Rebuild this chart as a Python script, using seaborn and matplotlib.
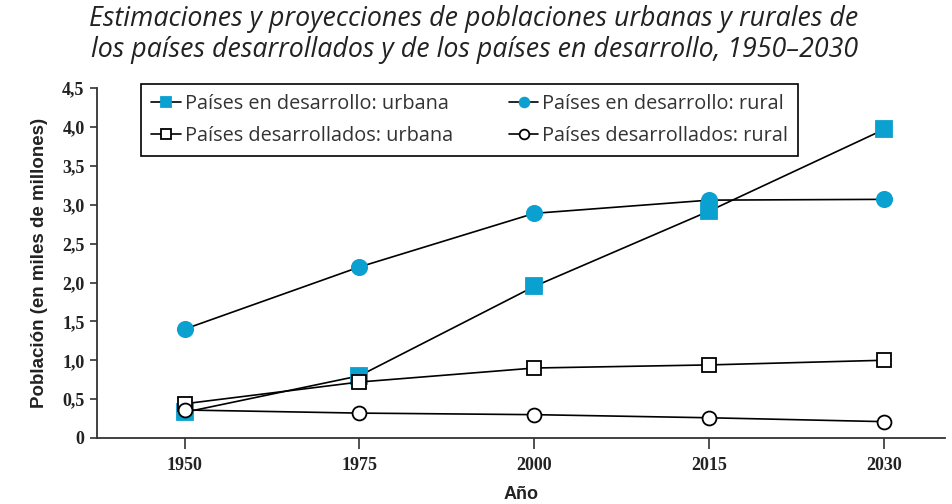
import numpy as np
import seaborn as sns
import matplotlib.pyplot as plt

# data (miles de millones)
years = ["1950", "1975", "2000", "2015", "2030"]
dev_urban = [0.33, 0.80, 1.95, 2.92, 3.97]      # países en desarrollo: urbana
dev_rural = [1.40, 2.20, 2.89, 3.06, 3.07]      # países en desarrollo: rural
ind_urban = [0.44, 0.72, 0.90, 0.94, 1.00]      # países desarrollados: urbana
ind_rural = [0.36, 0.32, 0.30, 0.26, 0.21]      # países desarrollados: rural
y_ticks = [0, 0.5, 1.0, 1.5, 2.0, 2.5, 3.0, 3.5, 4.0, 4.5]
y_tick_labels = ["0", "0,5", "1,0", "1,5", "2,0", "2,5", "3,0", "3,5", "4,0", "4,5"]

cyan = "#0aa0cf"
sns.set_style("ticks")

fig = plt.figure(figsize=(9.52, 5.04), dpi=100)
ax = fig.add_axes([0.102, 0.131, 0.891, 0.694])

x = np.arange(len(years))
series = [
    (dev_urban, "Países en desarrollo: urbana", "s", cyan, cyan, 11),
    (dev_rural, "Países en desarrollo: rural", "o", cyan, cyan, 11),
    (ind_urban, "Países desarrollados: urbana", "s", "white", "black", 10),
    (ind_rural, "Países desarrollados: rural", "o", "white", "black", 10),
]
for vals, label, mk, fc, ec, ms in series:
    sns.lineplot(x=x, y=vals, ax=ax, color="black", linewidth=1.2, label=label,
                 marker=mk, markersize=ms, markerfacecolor=fc,
                 markeredgecolor=ec, markeredgewidth=1.3, clip_on=False)

ax.set_xlim(-0.5, 4.35)
ax.set_ylim(0, 4.5)
ax.set_xticks(x)
ax.set_xticklabels(years)
ax.set_yticks(y_ticks)
ax.set_yticklabels(y_tick_labels)
for lab in ax.get_xticklabels() + ax.get_yticklabels():
    lab.set_fontfamily("Liberation Serif")
    lab.set_fontweight("bold")
    lab.set_fontsize(13)
    lab.set_color("#222222")
ax.tick_params(axis="x", length=8, width=1.2, color="#333333", pad=6)
ax.tick_params(axis="y", length=5, width=1.2, color="#333333", pad=4)
sns.despine(ax=ax)
for s in ["left", "bottom"]:
    ax.spines[s].set_linewidth(1.3)
    ax.spines[s].set_color("#333333")

ax.set_xlabel("Año", fontsize=13, fontweight="bold", family="Liberation Sans",
              color="#222222", labelpad=8)
ax.set_ylabel("Población (en miles de millones)", fontsize=13.5, fontweight="bold",
              family="Liberation Sans", color="#222222", labelpad=10)

fig.text(0.498, 0.99, "Estimaciones y proyecciones de poblaciones urbanas y rurales de\n"
         "los países desarrollados y de los países en desarrollo, 1950–2030",
         ha="center", va="top", fontsize=19.3, style="italic", family="Open Sans",
         color="#222222", linespacing=1.15)

# row-wise legend order: desarrollo urbana / rural, desarrollados urbana / rural
handles, labels = ax.get_legend_handles_labels()
order = [0, 2, 1, 3]
leg = ax.legend([handles[i] for i in order], [labels[i] for i in order],
                loc="upper left", bbox_to_anchor=(0.052, 1.012), ncol=2,
                frameon=True, fancybox=False, edgecolor="black", framealpha=1,
                prop={"family": "Open Sans", "size": 14.3}, handlelength=1.5,
                handletextpad=0.2, columnspacing=2.8, borderpad=0.5,
                labelspacing=0.6, borderaxespad=0)
leg.get_frame().set_linewidth(1.2)
for t in leg.get_texts():
    t.set_color("#333333")
for h in leg.legend_handles:
    h.set_markersize(7)

fig.savefig("out.png", dpi=100)
